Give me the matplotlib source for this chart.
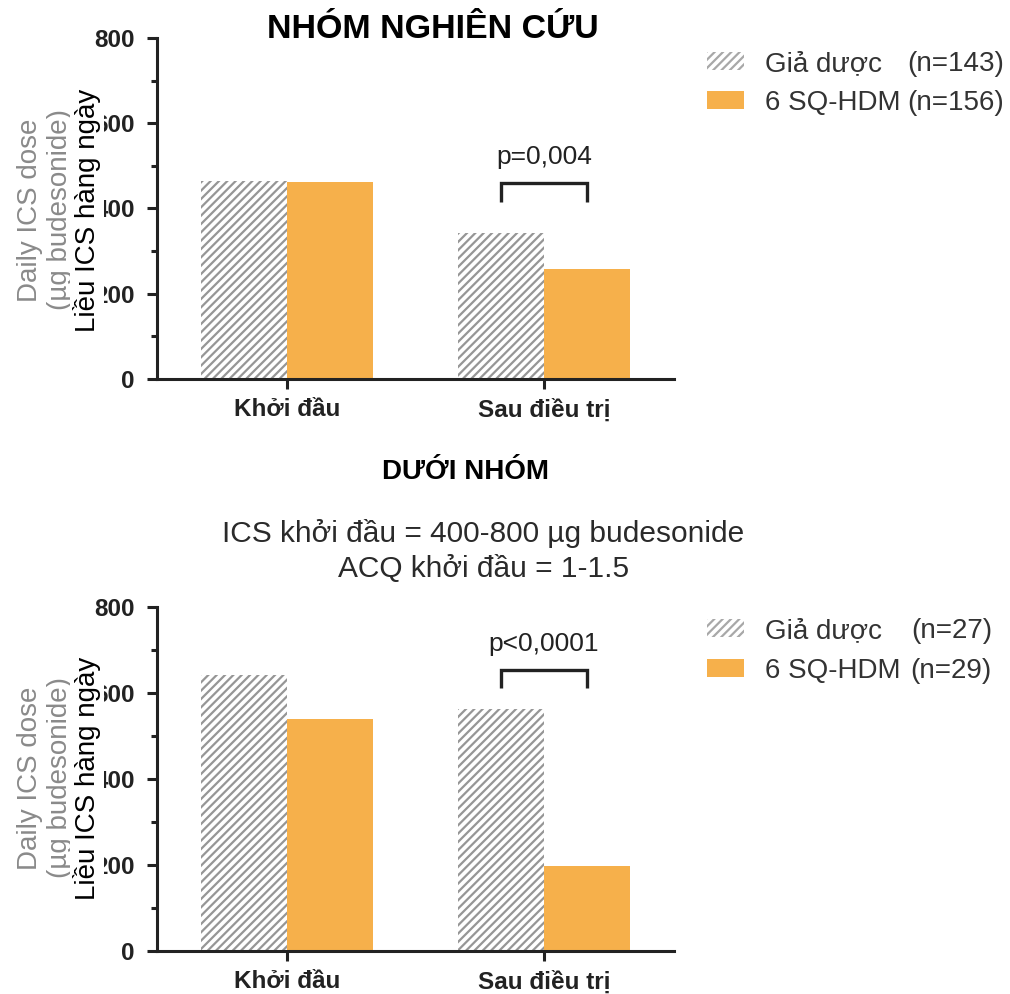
import matplotlib
matplotlib.use('Agg')
import matplotlib.pyplot as plt
from matplotlib.patches import Rectangle

plt.rcParams['font.family'] = ['Liberation Sans', 'DejaVu Sans']
plt.rcParams['hatch.linewidth'] = 1.6

# du lieu
nhom = ['Khởi đầu', 'Sau điều trị']
gia_duoc_chung = [465, 343]
hdm_chung = [462, 258]
gia_duoc_phu = [641, 561]
hdm_phu = [539, 197]

cam = '#F6B04B'
xam = '#969696'
den = '#222222'
W, H = 1010, 994


def fx(px):
    return px / W


def fy(py):
    return 1 - py / H


def ve_truc(ax, gd, hdm, p_text, p_y, br_top, br_bot):
    w = 0.335
    x = list(range(len(nhom)))
    ax.bar(x, gd, width=-w, align='edge', color='white', edgecolor=xam, hatch='////', linewidth=0)
    ax.bar(x, hdm, width=w, align='edge', color=cam, linewidth=0)
    ax.set_xlim(-0.506, 1.506)
    ax.set_ylim(0, 800)
    ax.set_yticks([0, 200, 400, 600, 800])
    ax.set_yticks([100, 300, 500, 700], minor=True)
    ax.set_xticks(x)
    ax.set_xticklabels(nhom, fontsize=17.5, fontweight='bold', color=den)
    for lab in ax.get_yticklabels():
        lab.set_fontweight('bold')
    ax.tick_params(axis='y', which='major', length=7, width=2.2, labelsize=17.5, pad=9, color=den, labelcolor=den)
    ax.tick_params(axis='y', which='minor', length=4.5, width=2.2, color=den)
    ax.tick_params(axis='x', which='major', length=7, width=2.2, pad=7, color=den)
    for s in ['top', 'right']:
        ax.spines[s].set_visible(False)
    for s in ['left', 'bottom']:
        ax.spines[s].set_linewidth(2.2)
        ax.spines[s].set_color(den)
    # ngoac p-value
    x0, x1 = 1 - w / 2, 1 + w / 2
    ax.plot([x0, x0, x1, x1], [br_bot, br_top, br_top, br_bot], color=den, lw=2.4,
            solid_capstyle='butt', solid_joinstyle='miter', clip_on=False)
    ax.text(1, p_y, p_text, ha='center', va='center', fontsize=19, color=den)


def chu_thich(y1, y2, n1, n2, x_right):
    fig.add_artist(Rectangle((fx(707), fy(y1 + 9)), 37 / W, 18 / H, transform=fig.transFigure,
                             facecolor='white', edgecolor='#a8a8a8', hatch='////', linewidth=0))
    fig.add_artist(Rectangle((fx(707), fy(y2 + 9)), 37 / W, 18 / H, transform=fig.transFigure,
                             facecolor=cam, linewidth=0))
    fig.text(fx(765), fy(y1), 'Giả dược', fontsize=20, color='#333333', va='center_baseline')
    fig.text(fx(x_right), fy(y1), n1, fontsize=20, color='#333333', va='center_baseline', ha='right')
    fig.text(fx(765), fy(y2), '6 SQ-HDM', fontsize=20, color='#333333', va='center_baseline')
    fig.text(fx(x_right), fy(y2), n2, fontsize=20, color='#333333', va='center_baseline', ha='right')


def nhan_y(yc):
    fig.text(fx(45), fy(yc), 'Daily ICS dose\n(µg budesonide)', rotation=90, ha='center', va='center',
             fontsize=20, color='#8a8a8a', linespacing=1.2, multialignment='center')
    fig.text(fx(87), fy(yc), 'Liều ICS hàng ngày', rotation=90, ha='center', va='center',
             fontsize=20, color='black',
             bbox=dict(boxstyle='square,pad=0.12', facecolor='white', edgecolor='none'))


fig = plt.figure(figsize=(10.1, 9.94), dpi=100)
ax1 = fig.add_axes([fx(157), fy(378.7), (674 - 157) / W, 340.7 / H])
ax2 = fig.add_axes([fx(157), fy(950.7), (674 - 157) / W, 344 / H])

ve_truc(ax1, gia_duoc_chung, hdm_chung, 'p=0,004', 520, 460, 415)
ve_truc(ax2, gia_duoc_phu, hdm_phu, 'p<0,0001', 713, 653, 611)

fig.text(fx(433), fy(30), 'NHÓM NGHIÊN CỨU', ha='center', va='center', fontsize=24.5,
         fontweight='bold', color='black')
fig.text(fx(465), fy(472), 'DƯỚI NHÓM', ha='center', va='center', fontsize=20,
         fontweight='bold', color='black')
fig.text(fx(483), fy(533), 'ICS khởi đầu = 400-800 µg budesonide', ha='center', va='center',
         fontsize=21.5, color='#2a2a2a')
fig.text(fx(484), fy(569), 'ACQ khởi đầu = 1-1.5', ha='center', va='center',
         fontsize=21.5, color='#2a2a2a')

chu_thich(61, 100, '(n=143)', '(n=156)', 1004)
chu_thich(628, 668, '(n=27)', '(n=29)', 992)

nhan_y(210)
nhan_y(778)

fig.savefig('out.png', dpi=100)
